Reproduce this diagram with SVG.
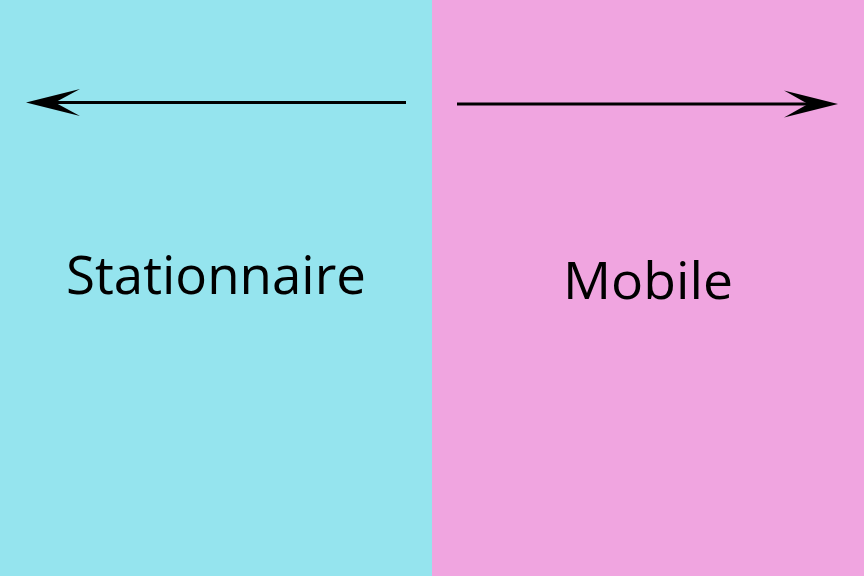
<svg xmlns="http://www.w3.org/2000/svg" width="864" height="576" viewBox="0 0 864 576">
<style>
.lbl{font-family:"Open Sans","Noto Sans","Liberation Sans",sans-serif;fill:#000;}
.ln{stroke:#000;stroke-width:3;fill:none;}
</style>
<g id="stationnaire">
<rect x="0" y="0" width="432" height="576" fill="#95E4EE"/>
<text class="lbl" x="216" y="294" font-size="53" text-anchor="middle" textLength="300" lengthAdjust="spacingAndGlyphs">Stationnaire</text>
</g>
<g id="mobile">
<rect x="432" y="0" width="432" height="576" fill="#F0A5E0"/>
<text class="lbl" x="648" y="299" font-size="52" text-anchor="middle" textLength="170" lengthAdjust="spacingAndGlyphs">Mobile</text>
</g>
<g id="connectors">
<line class="ln" x1="406" y1="102.5" x2="50" y2="102.5"/>
<polygon points="26,102.5 80,89 55,102.5 80,116" fill="#000"/>
<line class="ln" x1="457" y1="104" x2="812" y2="104"/>
<polygon points="838,104 784,90.5 808,104 784,117.5" fill="#000"/>
</g>
</svg>
